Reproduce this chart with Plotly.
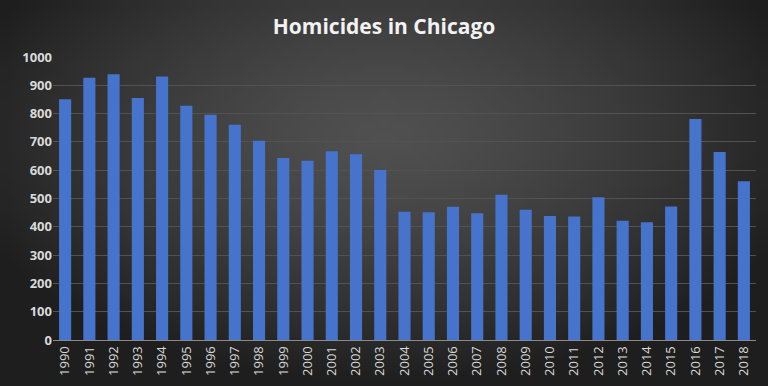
import base64, struct, zlib
import plotly.graph_objects as go

years = [str(y) for y in range(1990, 2019)]
homicides = [851, 927, 939, 855, 931, 828, 796, 761, 704, 643, 633, 667, 656, 601,
             453, 451, 471, 448, 513, 460, 438, 436, 504, 421, 416, 472, 781, 664, 561]
y_ticks = [0, 100, 200, 300, 400, 500, 600, 700, 800, 900, 1000]
title_text = "Homicides in Chicago"

# --- radial-gradient background image (styling only) ---
W, H = 96, 48
def make_png(w, h):
    rows = []
    cx, cy = (w - 1) / 2, (h - 1) * 0.35
    for j in range(h):
        row = bytearray([0])
        for i in range(w):
            dx = (i - cx) / (w / 2)
            dy = (j - cy) / (h / 2) * 0.9
            d = min(1.0, (dx * dx + dy * dy) ** 0.5 / 1.15)
            v = int(round(80 - (80 - 30) * d ** 1.4))
            row += bytes([v, v, v])
        rows.append(bytes(row))
    raw = b"".join(rows)
    def chunk(t, data):
        c = struct.pack(">I", len(data)) + t + data
        return c + struct.pack(">I", zlib.crc32(t + data) & 0xffffffff)
    png = b"\x89PNG\r\n\x1a\n"
    png += chunk(b"IHDR", struct.pack(">IIBBBBB", w, h, 8, 2, 0, 0, 0))
    png += chunk(b"IDAT", zlib.compress(raw, 9))
    png += chunk(b"IEND", b"")
    return "data:image/png;base64," + base64.b64encode(png).decode()

bg = make_png(W, H)

fig = go.Figure(go.Bar(
    x=years, y=homicides,
    marker=dict(color="#4673cc", line=dict(width=0)),
    width=0.5,
))

L, R, T, B = 53, 12, 57, 46
fig.update_layout(
    width=768, height=386,
    margin=dict(l=L, r=R, t=T, b=B, autoexpand=False),
    paper_bgcolor="#2e2e2e",
    plot_bgcolor="rgba(0,0,0,0)",
    title=dict(text="<b>" + title_text + "</b>", x=0.5, xanchor="center",
               xref="container", y=1 - 27 / 386, yanchor="middle",
               font=dict(family="Open Sans", size=21, color="#f2f2f2")),
    images=[dict(source=bg, xref="paper", yref="paper",
                 x=-L / (768 - L - R), y=1 + T / (386 - T - B),
                 sizex=768 / (768 - L - R), sizey=386 / (386 - T - B),
                 xanchor="left", yanchor="top", sizing="stretch", layer="below")],
    showlegend=False,
    bargap=0.5,
)
fig.update_xaxes(
    type="category", tickangle=-90, automargin=False,
    tickfont=dict(family="Open Sans", size=13, color="#d9d9d9"),
    showgrid=False, showline=True, linecolor="#8a8a8a", linewidth=1,
    ticks="", ticklen=0,
)
fig.update_yaxes(
    range=[0, 1000], tickvals=y_ticks, automargin=False,
    tickfont=dict(family="Open Sans", size=13, color="#d9d9d9", weight="bold"),
    showgrid=True, gridcolor="#525252", gridwidth=1,
    zeroline=False, showline=False, ticks="",
)
fig.write_html("out.html",
               config={"displayModeBar": False},
               post_script="document.body.style.margin='0';document.body.style.overflow='hidden';")
